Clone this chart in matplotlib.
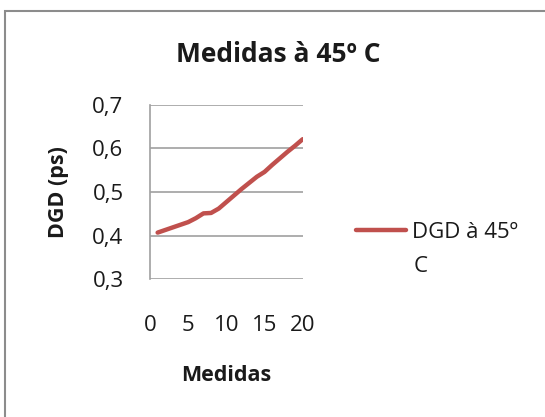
import matplotlib
matplotlib.use("Agg")
import matplotlib.pyplot as plt
from matplotlib.patches import Rectangle

medidas = list(range(1, 21))
dgd_45 = [0.407, 0.413, 0.419, 0.425, 0.431, 0.440, 0.451, 0.452, 0.462, 0.477,
          0.492, 0.507, 0.521, 0.535, 0.546, 0.562, 0.577, 0.592, 0.606, 0.621]
x_ticks = [0, 5, 10, 15, 20]
y_ticks = [0.3, 0.4, 0.5, 0.6, 0.7]
y_tick_labels = ["0,3", "0,4", "0,5", "0,6", "0,7"]

plt.rcParams['font.family'] = ['Open Sans', 'DejaVu Sans']

W, H = 545, 417
fig = plt.figure(figsize=(W / 100, H / 100), dpi=100)
fig.patch.set_facecolor("white")

# chart-area frame
fig.patches.append(Rectangle((5 / W, -0.2), 1.2, 0.2 + (1 - 11 / H),
                             transform=fig.transFigure, fill=False,
                             edgecolor="#8c8c8c", linewidth=1.5))

ax = fig.add_axes([150 / W, 1 - 279.3 / H, 152.7 / W, 174.6 / H])
line, = ax.plot(medidas, dgd_45, color="#c0504d", linewidth=3.2,
                solid_capstyle="round", label="DGD à 45º")

txt = "#1a1a1a"
fs = 16

ax.set_xlim(0, 20)
ax.set_ylim(0.3, 0.7)
ax.set_xticks(x_ticks)
ax.set_xticklabels([str(t) for t in x_ticks])
ax.set_yticks(y_ticks)
ax.set_yticklabels(y_tick_labels)
ax.tick_params(axis="both", length=0, labelsize=fs, colors=txt)
ax.tick_params(axis="x", pad=26)
ax.tick_params(axis="y", pad=19)
ax.grid(axis="y", color="#a0a0a0", linewidth=1.2)
ax.set_axisbelow(True)
for s in ("top", "right", "bottom"):
    ax.spines[s].set_visible(False)
ax.spines["left"].set_color("#a0a0a0")
ax.spines["left"].set_linewidth(1.2)

ax.set_xlabel("Medidas", fontsize=15.5, fontweight="bold", color=txt)
ax.xaxis.set_label_coords(0.5, (279.3 - 365) / 174.6)
ax.set_ylabel("DGD (ps)", fontsize=15.5, fontweight="bold", color=txt)
ax.yaxis.set_label_coords((69 - 150) / 152.7, 0.5)

fig.text(278.7 / W, 1 - 55 / H, "Medidas à 45º C", ha="center", va="center",
         fontsize=19, fontweight="bold", color=txt)

leg = fig.legend(handles=[line], loc="center left",
                 bbox_to_anchor=(356 / W, 1 - 232 / H),
                 frameon=False, fontsize=fs, handlelength=2.27,
                 handletextpad=0.25, borderpad=0, borderaxespad=0,
                 labelcolor=txt)
fig.text(413.6 / W, 1 - 266 / H, "C", ha="left", va="center", fontsize=fs,
         color=txt)

fig.savefig("out.png", dpi=100)
